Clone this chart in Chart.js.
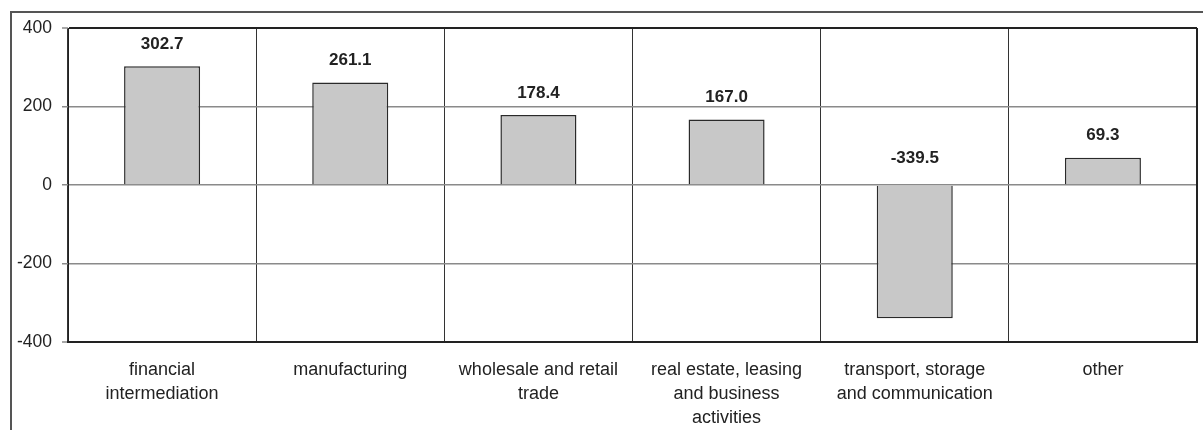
<!DOCTYPE html>
<html>
<head>
<meta charset="utf-8">
<script src="https://cdn.jsdelivr.net/npm/chart.js@4/dist/chart.umd.min.js"></script>
<style>
html,body{margin:0;padding:0;background:#fff;}
#wrap{width:1203px;height:430px;position:relative;}
</style>
</head>
<body>
<div id="wrap"><canvas id="c" width="1203" height="430"></canvas></div>
<script>
const categories = [
  ["financial", "intermediation"],
  ["manufacturing"],
  ["wholesale and retail", "trade"],
  ["real estate, leasing", "and business", "activities"],
  ["transport, storage", "and communication"],
  ["other"]
];
const values = [302.7, 261.1, 178.4, 167.0, -339.5, 69.3];
const yTicks = [400, 200, 0, -200, -400];

const FONT = "'Liberation Sans', Arial, sans-serif";

const framePlugin = {
  id: 'frame',
  beforeDraw(chart) {
    const ctx = chart.ctx;
    ctx.save();
    ctx.strokeStyle = '#555';
    ctx.lineWidth = 2;
    ctx.beginPath();
    ctx.moveTo(1203, 12);
    ctx.lineTo(11, 12);
    ctx.lineTo(11, 430);
    ctx.stroke();
    ctx.restore();
  },
  afterDraw(chart) {
    const a = chart.chartArea;
    const ctx = chart.ctx;
    ctx.save();
    ctx.strokeStyle = '#222';
    ctx.lineWidth = 2;
    ctx.beginPath();
    ctx.moveTo(a.right, a.top);
    ctx.lineTo(a.right, a.bottom);
    ctx.stroke();
    ctx.restore();
  }
};

const labelPlugin = {
  id: 'vlabels',
  afterDatasetsDraw(chart) {
    const ctx = chart.ctx;
    const meta = chart.getDatasetMeta(0);
    ctx.save();
    ctx.font = "bold 17px " + FONT;
    ctx.fillStyle = '#222';
    ctx.textAlign = 'center';
    ctx.textBaseline = 'middle';
    meta.data.forEach((bar, i) => {
      const v = values[i];
      const y = v >= 0 ? bar.y - 22 : bar.base - 27;
      ctx.fillText(v.toFixed(1), bar.x, y);
    });
    ctx.restore();
  }
};

new Chart(document.getElementById('c'), {
  type: 'bar',
  data: {
    labels: categories,
    datasets: [{
      data: values,
      backgroundColor: '#c8c8c8',
      borderColor: '#2a2a2a',
      borderWidth: 1.5,
      categoryPercentage: 1,
      barPercentage: 0.404
    }]
  },
  options: {
    responsive: false,
    animation: false,
    layout: { padding: { left: 0, top: 28, right: 6, bottom: 0 } },
    plugins: { legend: { display: false }, tooltip: { enabled: false } },
    scales: {
      x: {
        grid: {
          offset: true,
          drawTicks: false,
          color: '#333',
          lineWidth: 1
        },
        border: { color: '#222', width: 2 },
        ticks: {
          color: '#222',
          font: { family: FONT, size: 18, lineHeight: 1.333 },
          padding: 16,
          maxRotation: 0,
          autoSkip: false
        },
        afterFit(scale) { scale.height = 88; }
      },
      y: {
        min: -400,
        max: 400,
        afterBuildTicks(scale) { scale.ticks = yTicks.map(v => ({ value: v })); },
        grid: {
          color: (c) => (c.tick && (c.tick.value === 400) ? '#222' : '#8a8a8a'),
          lineWidth: (c) => (c.tick && (c.tick.value === 400 || c.tick.value === -400) ? 2 : 1.5),
          tickLength: 6,
          tickColor: '#8a8a8a',
          tickWidth: 1.5
        },
        border: { color: '#222', width: 1 },
        ticks: {
          color: '#222',
          font: { family: FONT, size: 17.5 },
          padding: 10
        },
        afterFit(scale) { scale.width = 68; }
      }
    }
  },
  plugins: [framePlugin, labelPlugin]
});
</script>
</body>
</html>
